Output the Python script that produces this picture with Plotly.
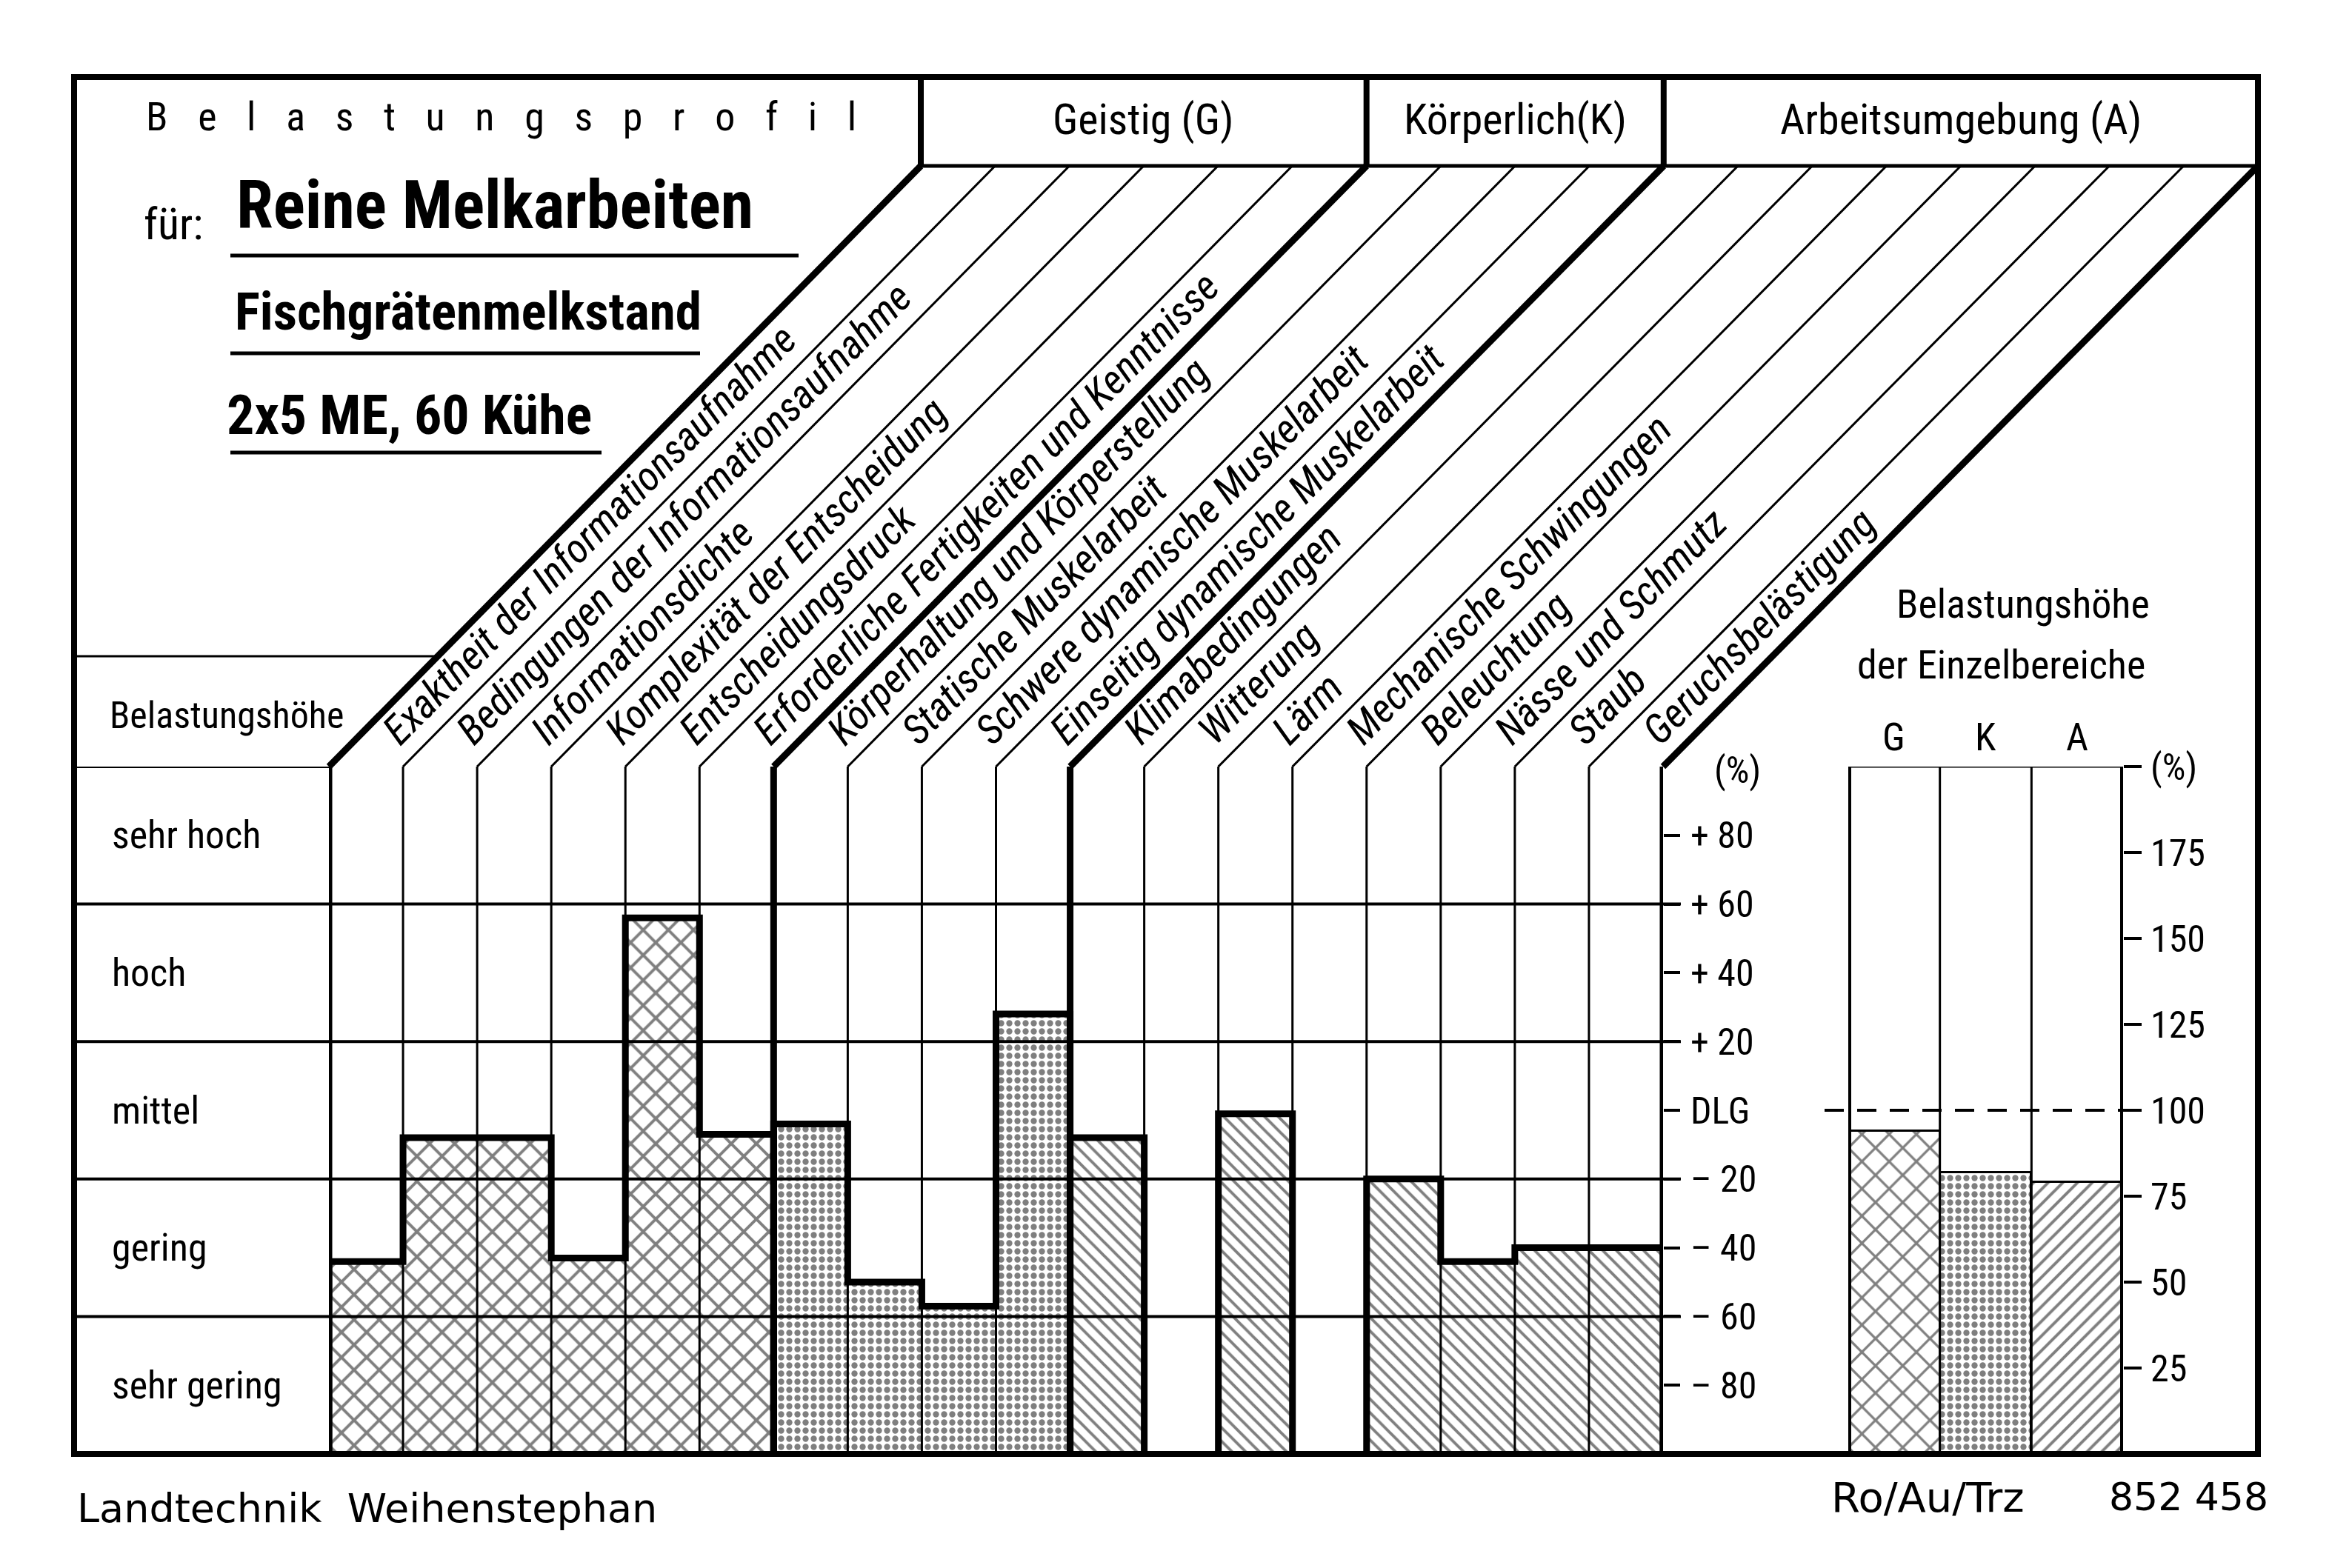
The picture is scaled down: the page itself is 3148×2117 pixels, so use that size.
import math
import plotly.graph_objects as go

# ---------------- data ----------------
g_labels = ["Exaktheit der Informationsaufnahme", "Bedingungen der Informationsaufnahme",
            "Informationsdichte", "Komplexität der Entscheidung", "Entscheidungsdruck",
            "Erforderliche Fertigkeiten und Kenntnisse"]
k_labels = ["Körperhaltung und Körperstellung", "Statische Muskelarbeit",
            "Schwere dynamische Muskelarbeit", "Einseitig dynamische Muskelarbeit"]
a_labels = ["Klimabedingungen", "Witterung", "Lärm", "Mechanische Schwingungen",
            "Beleuchtung", "Nässe und Schmutz", "Staub", "Geruchsbelästigung"]
g_values = [-44, -8, -8, -43, 56, -7]
k_values = [-4, -50, -57, 28]
a_values = [-8, None, -1, None, -20, -44, -40, -40]
level_labels = ["sehr hoch", "hoch", "mittel", "gering", "sehr gering"]
level_centers = [80, 40, 0, -40, -80]
level_bounds = [-60, -20, 20, 60]
dev_tickvals = [-80, -60, -40, -20, 0, 20, 40, 60, 80]
dev_ticktext = ["– 80", "– 60", "– 40", "– 20", "DLG", "+ 20", "+ 40", "+ 60", "+ 80"]
area_names = ["G", "K", "A"]
area_values = [94, 82, 79]
area_tickvals = [25, 50, 75, 100, 125, 150, 175, 200]
area_ticktext = ["25", "50", "75", "100", "125", "150", "175", "(%)"]
group_titles = ["Geistig (G)", "Körperlich(K)", "Arbeitsumgebung (A)"]

Y_MIN, Y_MAX = -100, 100

# ---------------- geometry helpers (reference pixels -> paper) ----------------
W, H, OFF = 3132, 2101, 8
def X(p): return (p - OFF) / W
def Y(p): return 1 - (p - OFF) / H

PL, PR, PT, PB = 444, 2245, 1035, 1963
RL, RR = 2495, 2866
FL, FR, FT, FB = 100, 3048, 104, 1963
HB = 224
DT0 = 1243
NCOL = len(g_values) + len(k_values) + len(a_values)
CW = (PR - PL) / NCOL
DTS = (FR - DT0) / NCOL
bounds = [0, len(g_values), len(g_values) + len(k_values), NCOL]

COND = ("Noto Sans ExtraCondensed, Noto Sans Condensed, Noto Sans SemiCondensed, "
        "Roboto Condensed, Liberation Sans Narrow, DejaVu Sans Condensed, Liberation Sans, sans-serif")
WIDE = "DejaVu Sans, Verdana, sans-serif"

fig = go.Figure()

groups = [(0, g_values, "x", 24, 0.3), (bounds[1], k_values, ".", 11, 0.45),
          (bounds[2], a_values, "\\", 13, 0.3)]
for start, vals, shape, size, sol in groups:
    xs = [start + i for i in range(len(vals))]
    ys = [None if v is None else v - Y_MIN for v in vals]
    fig.add_trace(go.Bar(
        x=xs, y=ys, base=Y_MIN, width=1, xaxis="x", yaxis="y",
        marker=dict(color="white", line=dict(color="black", width=2),
                    pattern=dict(shape=shape, fgcolor="black", bgcolor="white",
                                 size=size, solidity=sol)),
        hoverinfo="skip"))
    # thick step outline along each contiguous run of bars
    run_x, run_y = None, None
    def flush(rx, ry):
        rx.append(rx[-1]); ry.append(Y_MIN)
        fig.add_trace(go.Scatter(x=rx, y=ry, mode="lines", xaxis="x", yaxis="y",
                                 line=dict(color="black", width=9), hoverinfo="skip"))
    for xi, v in zip(xs, vals):
        if v is None:
            if run_x is not None:
                flush(run_x, run_y)
                run_x = None
            continue
        if run_x is None:
            run_x, run_y = [xi - 0.5], [Y_MIN]
        run_x += [xi - 0.5, xi + 0.5]
        run_y += [v, v]
    if run_x is not None:
        flush(run_x, run_y)

# right panel bars
fig.add_trace(go.Bar(
    x=[0, 1, 2], y=area_values, width=1, xaxis="x2", yaxis="y2",
    marker=dict(color="white", line=dict(color="black", width=3),
                pattern=dict(shape=["x", ".", "/"], fgcolor="black", bgcolor="white",
                             size=[26, 11, 14], solidity=[0.24, 0.45, 0.28])),
    hoverinfo="skip"))

shapes = []
def pline(x0, y0, x1, y1, w=3, dash=None, xref="paper", yref="paper"):
    d = dict(type="line", x0=x0, y0=y0, x1=x1, y1=y1, xref=xref, yref=yref,
             line=dict(color="black", width=w), layer="above")
    if dash:
        d["line"]["dash"] = dash
    shapes.append(d)

# frame
shapes.append(dict(type="rect", xref="paper", yref="paper", x0=X(FL), y0=Y(FB), x1=X(FR), y1=Y(FT),
                   line=dict(color="black", width=8), layer="above"))
# header
pline(X(DT0), Y(HB), X(FR), Y(HB), 5)
for hx in [DT0, DT0 + DTS * bounds[1], DT0 + DTS * bounds[2]]:
    pline(X(hx), Y(FT), X(hx), Y(HB), 8)
# diagonals
for i in range(NCOL + 1):
    w = 9 if i in bounds else 3
    pline(X(PL + CW * i), Y(PT), X(DT0 + DTS * i), Y(HB), w)
# column verticals
for i in range(NCOL + 1):
    w = 9 if i in bounds else 3
    pline(i - 0.5, Y_MIN, i - 0.5, Y_MAX, w, xref="x", yref="y")
# level grid lines
for b in level_bounds:
    pline(X(FL), b, X(PR + 24), b, 4, yref="y")
pline(X(FL), Y_MAX, X(PL), Y_MAX, 4, yref="y")
# Belastungshöhe cell top
pline(X(FL), Y(886), X(PL + (PT - 886) * (DT0 - PL) / (PT - HB)), Y(886), 3)
# right panel box
pline(-0.5, 0, -0.5, 200, 8, xref="x2", yref="y2")
pline(2.5, 0, 2.5, 200, 8, xref="x2", yref="y2")
pline(0.5, 0, 0.5, 200, 3, xref="x2", yref="y2")
pline(1.5, 0, 1.5, 200, 3, xref="x2", yref="y2")
pline(-0.5, 200, 2.5, 200, 3, xref="x2", yref="y2")
pline(X(2463), 100, X(2897), 100, 4, dash="26px,18px", yref="y2")
# title underlines
pline(X(311), Y(345), X(1078), Y(345), 5)
pline(X(311), Y(477), X(945), Y(477), 5)
pline(X(311), Y(611), X(812), Y(611), 5)

ann = []
def text(t, x, y, size, xanchor="center", yanchor="middle", family=COND, weight=None,
         xref="paper", yref="paper", angle=0, style=None):
    f = dict(family=family, size=size, color="black")
    if weight:
        f["weight"] = weight
    if style:
        f["style"] = style
    ann.append(dict(text=t, x=x, y=y, xref=xref, yref=yref, xanchor=xanchor, yanchor=yanchor,
                    showarrow=False, font=f, textangle=angle, borderpad=0))

SP = "\u2002\u2004"
text(SP.join("Belastungsprofil"), X(676), Y(158), 54)
hx = [DT0, DT0 + DTS * bounds[1], DT0 + DTS * bounds[2], FR]
for j, t in enumerate(group_titles):
    text(t, X((hx[j] + hx[j + 1]) / 2), Y(161), 58)
text("für:", X(193), Y(303), 60, xanchor="left")
text("Reine Melkarbeiten", X(318), Y(277), 90, xanchor="left", weight="bold")
text("Fischgrätenmelkstand", X(316), Y(421), 71, xanchor="left", weight="bold")
text("2x5 ME, 60 Kühe", X(305), Y(560), 74, xanchor="left", weight="bold")
text("Belastungshöhe", X(147), Y(966), 50, xanchor="left")
for lab, c in zip(level_labels, level_centers):
    text(lab, X(150), c, 52, xanchor="left", yref="y")
text("(%)", X(2345), Y(1040), 50)
text("Belastungshöhe", X(2731), Y(815), 54)
text("der Einzelbereiche", X(2701), Y(897), 54)
for i, nm in enumerate(area_names):
    text(nm, i, Y(995), 52, xref="x2")
text("Landtechnik  Weihenstephan", X(103), Y(2036), 54, xanchor="left", family=WIDE)
text("Ro/Au/Trz", X(2471), Y(2021), 56, xanchor="left", family=WIDE)
text("852 458", X(2846), Y(2021), 52, xanchor="left", family=WIDE)

# diagonal column labels
labels = g_labels + k_labels + a_labels
FS = 55
hbox = 1.2 * FS
ux, uy = (DT0 - PL), (PT - HB)
ul = (ux ** 2 + uy ** 2) ** 0.5
ux, uy = ux / ul, uy / ul
ang = math.degrees(math.atan2(uy, ux))
for i, lab in enumerate(labels):
    M = PL + CW * (i + 0.5)
    sy = 1019
    c0y = sy - ux * hbox / 2
    c0x = M + (PT - c0y) * ux / uy
    sx = c0x + uy * hbox / 2 - 7
    text(lab, X(sx - uy * hbox), Y(sy), FS, xanchor="left", yanchor="bottom",
         angle=-ang, style="italic")

fig.update_layout(
    width=W, height=H, margin=dict(l=0, r=0, t=0, b=0, autoexpand=False),
    paper_bgcolor="white", plot_bgcolor="white", showlegend=False,
    bargap=0, barmode="overlay",
    xaxis=dict(domain=[X(PL), X(PR)], range=[-0.5, NCOL - 0.5], showticklabels=False,
               ticks="", showgrid=False, zeroline=False, showline=False, fixedrange=True),
    yaxis=dict(domain=[Y(PB), Y(PT)], range=[Y_MIN, Y_MAX], anchor="x", side="right",
               tickvals=dev_tickvals, ticktext=dev_ticktext, ticks="outside", ticklen=22,
               tickwidth=4, tickcolor="black", ticklabelstandoff=4,
               tickfont=dict(family=COND, size=50, color="black"),
               showgrid=False, zeroline=False, showline=False),
    xaxis2=dict(domain=[X(RL), X(RR)], range=[-0.5, 2.5], anchor="y2", showticklabels=False,
                ticks="", showgrid=False, zeroline=False, showline=False),
    yaxis2=dict(domain=[Y(PB), Y(PT)], range=[0, 200], anchor="x2", side="right",
                tickvals=area_tickvals, ticktext=area_ticktext, ticks="outside", ticklen=24,
                tickwidth=4, tickcolor="black", ticklabelstandoff=2,
                tickfont=dict(family=COND, size=50, color="black"),
                showgrid=False, zeroline=False, showline=False),
    shapes=shapes, annotations=ann,
)

fig.write_html("out.html")
